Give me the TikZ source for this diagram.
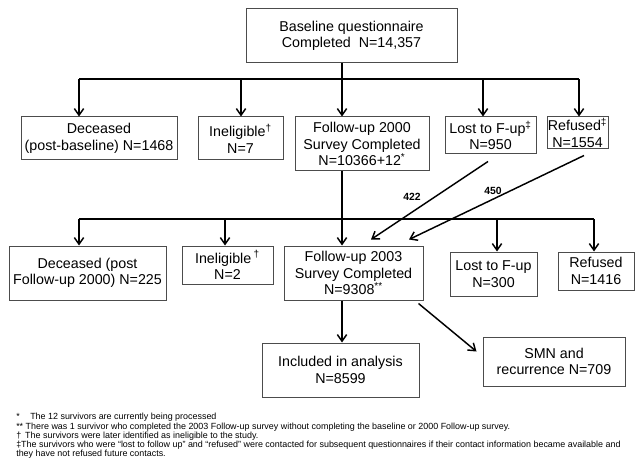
\documentclass[tikz,border=0pt]{standalone}
\usepackage{fontspec}
\setmainfont{Liberation Sans}
\usetikzlibrary{arrows.meta}
\begin{document}
\begin{tikzpicture}[x=0.75pt,y=-0.75pt,
        box/.style={draw=black!70,line width=0.75pt,align=center,inner sep=0pt,font=\fontsize{10.7}{12.4}\selectfont},
        bus/.style={line width=1.1pt},
        link/.style={bus,-{Straight Barb[length=5pt,width=7pt]}},
        lab/.style={inner sep=0pt,font=\fontsize{7.8}{9}\selectfont\bfseries}]
    \useasboundingbox (0,0) rectangle (642,474);
    \node[box,minimum width=158.25pt,minimum height=40.5pt] (top) at (351.5,36) {Baseline questionnaire\\Completed\ \ N=14,357};
    \node[box,minimum width=117pt,minimum height=32.25pt] (d1) at (99,138.5) {Deceased\\(post-baseline) N=1468};
    \node[box,minimum width=63.75pt,minimum height=32.25pt] (i1) at (240.5,138.5) {Ineligible\textsuperscript{†}\\N=7};
    \node[box,minimum width=100.5pt,minimum height=40.5pt] (f1) at (362,144) {Follow-up 2000\\Survey Completed\\N=10366+12\textsuperscript{*}};
    \node[box,minimum width=68.25pt,minimum height=27.75pt] (l1) at (490.5,135.5) {Lost to F-up\textsuperscript{‡}\\N=950};
    \node[box,minimum width=45.75pt,minimum height=24pt] (r1) at (577.5,133) {Refused\textsuperscript{‡}\\N=1554};
    \node[box,minimum width=117.75pt,minimum height=40.5pt] (d2) at (87.5,273) {Deceased (post\\Follow-up 2000) N=225};
    \node[box,minimum width=68.25pt,minimum height=28.5pt] (i2) at (227.5,265) {Ineligible\,\textsuperscript{†}\\N=2};
    \node[box,minimum width=104.25pt,minimum height=40.5pt] (f2) at (353.5,273) {Follow-up 2003\\Survey Completed\\N=9308\textsuperscript{**}};
    \node[box,minimum width=65.25pt,minimum height=33pt] (l2) at (493.5,274) {Lost to F-up\\N=300};
    \node[box,minimum width=57pt,minimum height=28.5pt] (r2) at (596,271) {Refused\\N=1416};
    \node[box,minimum width=117.75pt,minimum height=40.5pt] (inc) at (340.5,370) {Included in analysis\\N=8599};
    \node[box,minimum width=106.5pt,minimum height=36.75pt] (smn) at (554,361.5) {SMN and\\recurrence N=709};
    \coordinate (bus1) at (342,79);
    \coordinate (bus2) at (342,219);
    \draw[bus] (top.south -| bus1) -- (bus1);
    \draw[bus] (79,0 |- bus1) -- (579,0 |- bus1);
    \foreach \n/\x in {d1/79,i1/241,f1/342,l1/483,r1/579}{
        \draw[link] (\x,0 |- bus1) -- (\x,0 |- \n.north);
    }
    \draw[link] (f1.south -| bus1) -- (f2.north -| bus1);
    \draw[bus] (79,0 |- bus2) -- (594,0 |- bus2);
    \foreach \n/\x in {d2/79,i2/225,l2/497,r2/594}{
        \draw[link] (\x,0 |- bus2) -- (\x,0 |- \n.north);
    }
    \draw[link] ([shift={(-2.5,7)}]l1.south) -- ([shift={(17.5,-6)}]f2.north);
    \draw[link] ([shift={(6.5,6)}]r1.south) -- ([shift={(55.5,-6)}]f2.north);
    \node[lab] (n422) at (412,197) {422};
    \node[lab] (n450) at (493,191) {450};
    \draw[link] (f2.south -| bus1) -- (inc.north -| bus1);
    \draw[link] ([shift={(-5,3)}]f2.south east) -- ([shift={(-6,15)}]smn.north west);
    \node[anchor=north west,align=left,inner sep=0pt,font=\fontsize{6.7}{6.95}\selectfont] (notes) at (16,413) {*\hspace{7.9pt}The 12 survivors are currently being processed\\
        ** There was 1 survivor who completed the 2003 Follow-up survey without completing the baseline or 2000 Follow-up survey.\\
        †\hspace{3pt}The survivors were later identified as ineligible to the study.\\
        ‡The survivors who were “lost to follow up” and “refused” were contacted for subsequent questionnaires if their contact information became available and\\
        they have not refused future contacts.};
\end{tikzpicture}
\end{document}
